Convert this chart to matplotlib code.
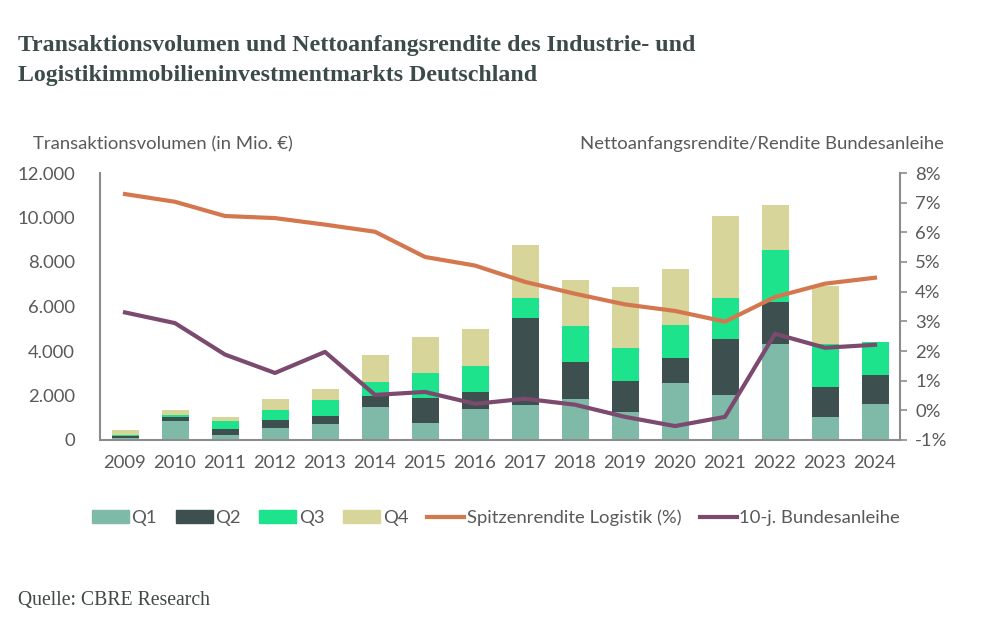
import numpy as np
import matplotlib
matplotlib.use("Agg")
import matplotlib.pyplot as plt
from matplotlib.patches import Patch
from matplotlib.lines import Line2D
from matplotlib.ticker import FuncFormatter

plt.rcParams['font.family'] = ['Lato', 'DejaVu Sans']

years = [str(y) for y in range(2009, 2025)]
# Transaktionsvolumen je Quartal (Mio. EUR)
q1 = [100, 840, 240, 540, 700, 1480, 750, 1410, 1570, 1830, 1270, 2580, 2010, 4300, 1020, 1620]
q2 = [75, 210, 270, 345, 380, 510, 1120, 750, 3930, 1690, 1380, 1110, 2530, 1920, 1350, 1320]
q3 = [50, 60, 345, 480, 720, 630, 1120, 1180, 900, 1590, 1500, 1470, 1830, 2310, 1930, 1470]
q4 = [225, 240, 195, 480, 490, 1200, 1640, 1630, 2370, 2070, 2730, 2530, 3700, 2010, 2620, 0]
# Renditen (%)
spitzenrendite = [7.29, 7.03, 6.55, 6.48, 6.26, 6.02, 5.17, 4.88, 4.33, 3.93, 3.57, 3.35, 2.99, 3.82, 4.27, 4.47]
bundesanleihe = [3.30, 2.94, 1.88, 1.26, 1.97, 0.52, 0.62, 0.22, 0.39, 0.19, -0.22, -0.53, -0.22, 2.58, 2.11, 2.21]

c_q1 = '#7fbaa8'
c_q2 = '#3e4f4f'
c_q3 = '#1ee38d'
c_q4 = '#d8d59b'
c_spitz = '#d4774f'
c_bund = '#7b4a6e'
txt = '#595959'
spine = '#8c8c8c'
fs = 13.3

fig = plt.figure(figsize=(9.82, 6.4), dpi=100)
ax = fig.add_axes([100 / 982, 1 - 440 / 640, 800 / 982, 267 / 640])

x = np.arange(len(years))
w = 0.54
b = np.zeros(len(years))
for vals, col in [(q1, c_q1), (q2, c_q2), (q3, c_q3), (q4, c_q4)]:
    ax.bar(x, vals, w, bottom=b, color=col, zorder=2)
    b = b + np.array(vals)

ax.set_xlim(-0.5, len(years) - 0.5)
ax.set_ylim(0, 12000)
ax.set_yticks(range(0, 12001, 2000))
ax.yaxis.set_major_formatter(FuncFormatter(lambda v, p: f'{int(v):,}'.replace(',', '.')))
ax.set_xticks(x)
ax.set_xticklabels(years)
ax.tick_params(axis='y', length=0, pad=18, labelsize=fs, colors=txt)
ax.tick_params(axis='x', length=0, pad=11, labelsize=fs, colors=txt)
for s in ['top', 'right']:
    ax.spines[s].set_visible(False)
for s in ['left', 'bottom']:
    ax.spines[s].set_color(spine)
    ax.spines[s].set_linewidth(1.5)

ax2 = ax.twinx()
ax2.plot(x, spitzenrendite, color=c_spitz, lw=3, zorder=3)
ax2.plot(x, bundesanleihe, color=c_bund, lw=3, zorder=3)
ax2.set_ylim(-1, 8)
ax2.set_yticks(range(-1, 9))
ax2.yaxis.set_major_formatter(FuncFormatter(lambda v, p: f'{int(v)}%'))
ax2.tick_params(axis='y', length=5, width=1.2, color=spine, pad=6, labelsize=fs, colors=txt)
for s in ['top', 'left', 'bottom']:
    ax2.spines[s].set_visible(False)
ax2.spines['right'].set_color(spine)
ax2.spines['right'].set_linewidth(1.5)

fig.text(33 / 982, 1 - 144 / 640, 'Transaktionsvolumen (in Mio. €)', fontsize=fs,
         color=txt, va='center', ha='left')
fig.text(944 / 982, 1 - 144 / 640, 'Nettoanfangsrendite/Rendite Bundesanleihe', fontsize=fs,
         color=txt, va='center', ha='right')

fig.text(18 / 982, 1 - 46 / 640, 'Transaktionsvolumen und Nettoanfangsrendite des Industrie- und',
         family='Liberation Serif', fontweight='bold', fontsize=17.2, color='#3d4a4a', va='center')
fig.text(18 / 982, 1 - 76 / 640, 'Logistikimmobilieninvestmentmarkts Deutschland',
         family='Liberation Serif', fontweight='bold', fontsize=17.2, color='#3d4a4a', va='center')
fig.text(18 / 982, 1 - 600 / 640, 'Quelle: CBRE Research', family='Liberation Serif',
         fontsize=14.2, color='#404848', va='center')

handles = [Patch(color=c_q1, label='Q1'), Patch(color=c_q2, label='Q2'),
           Patch(color=c_q3, label='Q3'), Patch(color=c_q4, label='Q4'),
           Line2D([], [], color=c_spitz, lw=3, label='Spitzenrendite Logistik (%)'),
           Line2D([], [], color=c_bund, lw=3, label='10-j. Bundesanleihe')]
leg = fig.legend(handles=handles, loc='center', bbox_to_anchor=(496 / 982, 1 - 518 / 640),
                 ncol=6, frameon=False, fontsize=fs, handlelength=2.0, handleheight=0.7,
                 handletextpad=0.15, columnspacing=1.0)
for t in leg.get_texts():
    t.set_color(txt)

fig.savefig('out.png', dpi=100)
